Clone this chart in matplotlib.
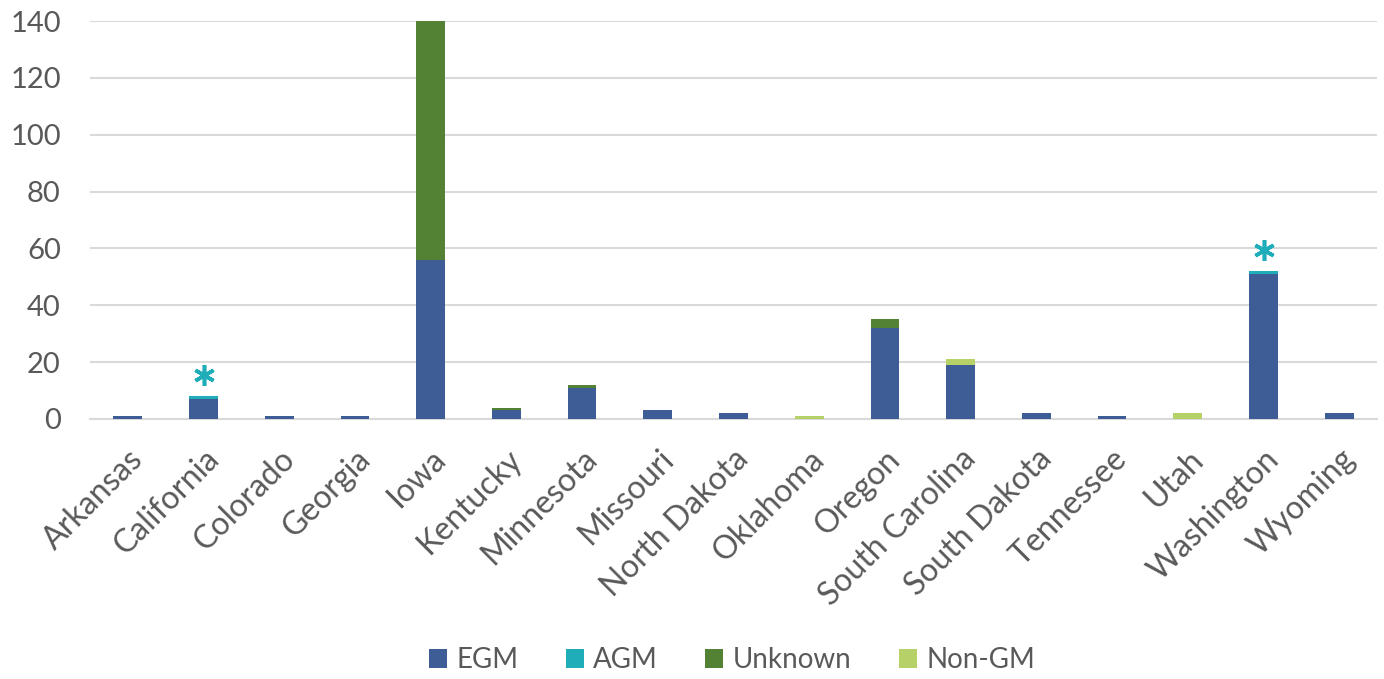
import matplotlib
matplotlib.use("Agg")
import matplotlib.pyplot as plt
import numpy as np

states = ["Arkansas", "California", "Colorado", "Georgia", "Iowa", "Kentucky",
          "Minnesota", "Missouri", "North Dakota", "Oklahoma", "Oregon",
          "South Carolina", "South Dakota", "Tennessee", "Utah", "Washington",
          "Wyoming"]
egm = [1, 7, 1, 1, 56, 3, 11, 3, 2, 0, 32, 19, 2, 1, 0, 51, 2]
agm = [0, 1, 0, 0, 0, 0, 0, 0, 0, 0, 0, 0, 0, 0, 0, 1, 0]
unknown = [0, 0, 0, 0, 84, 1, 1, 0, 0, 0, 3, 0, 0, 0, 0, 0, 0]
non_gm = [0, 0, 0, 0, 0, 0, 0, 0, 0, 1, 0, 2, 0, 0, 2, 0, 0]
starred = ["California", "Washington"]

series = [("EGM", egm, "#3E5C95"), ("AGM", agm, "#1FADBA"),
          ("Unknown", unknown, "#548235"), ("Non-GM", non_gm, "#B5D168")]

plt.rcParams["font.family"] = ["Lato", "DejaVu Sans"]
text_col = "#595959"

fig = plt.figure(figsize=(13.84, 6.79), dpi=100)
ax = fig.add_axes([0.065, 0.383, 0.93, 0.586])

x = np.arange(len(states))
bottom = np.zeros(len(states))
for name, vals, col in series:
    vals = np.array(vals, dtype=float)
    ax.bar(x, vals, 0.38, bottom=bottom, color=col, label=name, zorder=3)
    bottom += vals

# asterisks marking states with AGM records
for s in starred:
    i = states.index(s)
    ax.plot(i, bottom[i] + 7.5, marker=(6, 2, 0), markersize=15,
            markeredgewidth=2.6, color="#1FADBA", zorder=4)

ax.set_xlim(-0.5, len(states) - 0.5)
ax.set_ylim(0, 140)
ax.set_yticks(range(0, 141, 20))
ax.grid(axis="y", color="#D9D9D9", linewidth=1.5, zorder=0)
for side in ["top", "right", "left"]:
    ax.spines[side].set_visible(False)
ax.spines["bottom"].set_color("#D9D9D9")
ax.spines["bottom"].set_linewidth(1.5)
ax.tick_params(axis="both", length=0, colors=text_col)
ax.tick_params(axis="y", pad=21, labelsize=21)
ax.set_xticks(x)
ax.set_xticklabels(states, rotation=45, ha="right", rotation_mode="anchor",
                   fontsize=23, color=text_col)
ax.tick_params(axis="x", pad=18)

leg = fig.legend(loc="center", bbox_to_anchor=(0.529, 0.028), ncol=4,
                 frameon=False, fontsize=20, handlelength=0.65, handleheight=0.65,
                 handletextpad=0.35, columnspacing=1.7)
for t in leg.get_texts():
    t.set_color(text_col)

fig.savefig("out.png", dpi=100)
